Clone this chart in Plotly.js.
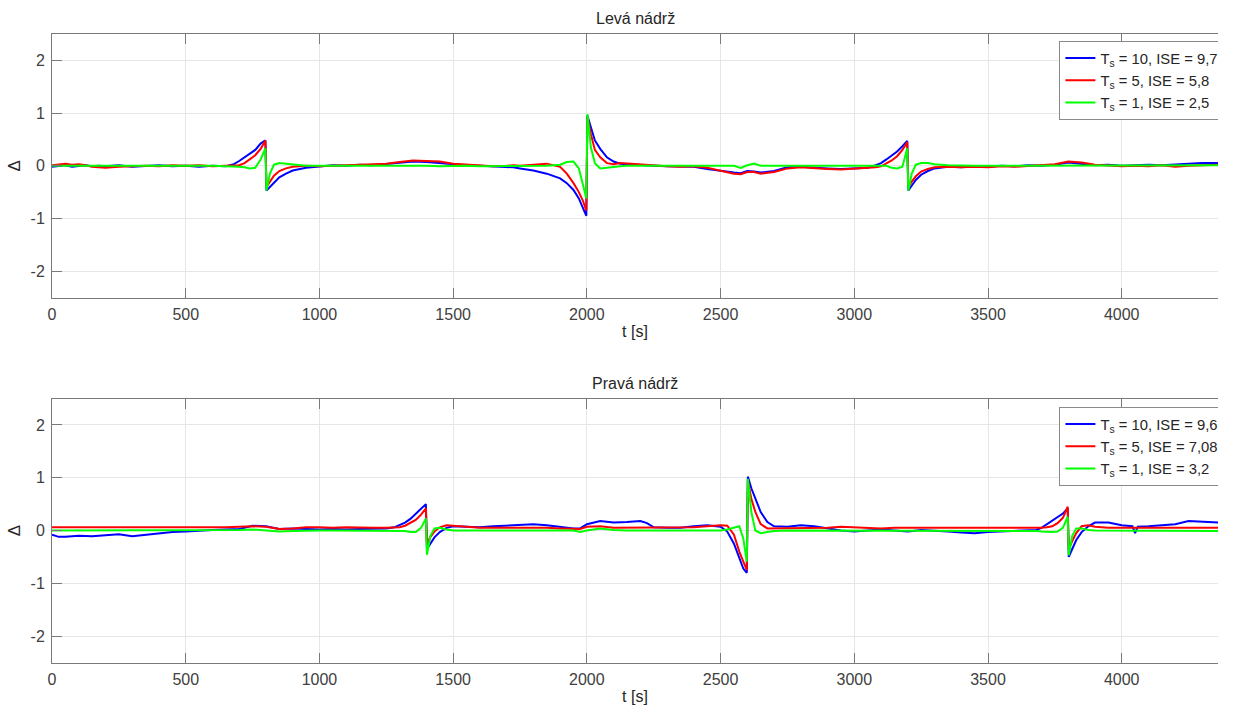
<!DOCTYPE html>
<html>
<head>
<meta charset="utf-8">
<script src="https://cdn.plot.ly/plotly-3.0.1.min.js"></script>
<style>
  html, body { margin: 0; padding: 0; background: #ffffff; }
  #clip { width: 1218px; height: 714px; overflow: hidden; }
  #plot { width: 1240px; height: 714px; }
</style>
</head>
<body>
<div id="clip"><div id="plot"></div></div>
<script>
// ---------- Levá nádrž (left tank) ----------
const tLeft = [0,25,50,75,100,125,150,175,200,250,300,350,400,450,500,550,600,650,
  680,700,720,740,760,780,798,
  802,815,830,850,875,900,950,
  1000,1050,1100,1150,1200,1250,1300,1350,1400,1450,1500,1550,1600,1650,1700,1725,1750,1800,1850,1900,1925,1950,1970,1985,1998,
  2002,2015,2030,2050,2075,2100,2125,2150,2200,2250,2300,2350,2400,2450,2500,2550,2575,2600,2625,2650,2700,2750,2800,2850,2900,2950,3000,3050,3080,3100,3120,3140,3160,3180,3198,
  3202,3215,3230,3250,3275,3300,3350,3400,3450,3500,3550,3600,3650,3700,3750,3800,3850,3900,3950,4000,4050,4100,4150,4200,4250,4300,4360];

const leftTs10 = [-0.02,-0.01,0.01,-0.02,0.0,0.01,-0.01,0.0,-0.01,0.01,-0.02,0.0,0.01,-0.01,0.0,-0.02,0.0,-0.01,
  0.03,0.09,0.16,0.23,0.3,0.42,0.48,
  -0.47,-0.4,-0.31,-0.22,-0.15,-0.09,-0.04,
  -0.02,0.01,0.0,0.02,0.01,0.03,0.05,0.08,0.07,0.05,0.02,0.01,0.0,-0.01,-0.02,-0.03,-0.05,-0.09,-0.15,-0.24,-0.33,-0.46,-0.62,-0.78,-0.95,
  0.95,0.72,0.48,0.32,0.16,0.08,0.04,0.03,0.01,0.0,-0.01,-0.01,-0.02,-0.06,-0.1,-0.13,-0.14,-0.1,-0.11,-0.13,-0.1,-0.03,-0.02,-0.04,-0.05,-0.06,-0.05,-0.04,0.01,0.05,0.12,0.19,0.27,0.37,0.47,
  -0.47,-0.37,-0.27,-0.17,-0.1,-0.05,-0.02,-0.03,-0.01,-0.02,0.0,-0.01,0.01,0.0,0.02,0.06,0.04,0.01,0.02,0.0,0.01,0.02,0.01,0.03,0.04,0.05,0.05];

const leftTs5 = [0.01,0.03,0.04,0.02,0.03,0.01,-0.02,-0.03,-0.04,-0.02,-0.01,0.0,-0.01,0.01,0.0,0.01,-0.01,0.0,
  0.0,0.01,0.05,0.12,0.2,0.32,0.48,
  -0.4,-0.3,-0.19,-0.1,-0.05,-0.02,0.0,
  -0.01,0.0,0.01,0.02,0.03,0.04,0.07,0.1,0.09,0.08,0.04,0.02,0.0,-0.01,0.0,0.01,0.0,0.02,0.04,-0.02,-0.15,-0.33,-0.5,-0.66,-0.85,
  0.92,0.6,0.3,0.16,0.05,0.03,0.05,0.04,0.02,0.0,-0.01,-0.02,-0.01,-0.04,-0.1,-0.15,-0.16,-0.12,-0.12,-0.15,-0.12,-0.05,-0.03,-0.05,-0.06,-0.07,-0.06,-0.05,-0.03,-0.01,0.04,0.1,0.18,0.3,0.45,
  -0.4,-0.3,-0.2,-0.11,-0.06,-0.03,-0.02,-0.03,-0.02,-0.03,-0.01,-0.02,0.0,0.01,0.03,0.08,0.06,0.02,0.0,-0.01,0.0,-0.01,0.01,-0.02,0.0,0.01,0.02];

const leftTs1 = [0.0,0.0,0.01,0.0,0.01,0.0,0.0,0.0,0.01,0.0,0.0,0.01,0.0,0.0,0.0,0.0,0.0,-0.01,
  -0.01,-0.02,-0.03,-0.05,-0.04,0.12,0.33,
  -0.47,-0.15,0.02,0.05,0.04,0.02,0.0,
  0.0,0.0,0.0,0.0,0.0,0.01,0.0,0.01,0.0,-0.01,0.0,0.0,-0.01,-0.01,0.0,0.0,0.0,0.0,0.0,0.02,0.07,0.08,-0.05,-0.35,-0.62,
  0.98,0.35,0.05,-0.05,-0.04,-0.02,-0.01,0.0,0.0,0.0,0.0,0.0,0.0,0.01,0.01,0.0,-0.04,0.01,0.04,0.0,0.0,0.0,0.0,0.0,0.0,0.0,0.0,0.0,0.0,0.0,0.0,-0.04,-0.05,-0.02,0.33,
  -0.47,-0.15,0.02,0.05,0.05,0.03,0.01,0.0,0.0,0.0,0.0,0.0,0.0,0.0,0.0,0.01,0.0,0.0,0.0,0.0,0.0,0.0,0.0,0.0,0.01,0.01,0.01];

// ---------- Pravá nádrž (right tank) ----------
const tRight = [0,25,50,100,150,200,250,300,350,400,450,500,550,600,650,700,750,800,850,900,950,1000,1050,1100,1150,1200,1250,
  1280,1300,1320,1340,1360,1380,1398,
  1402,1415,1430,1450,1475,1500,1550,
  1600,1650,1700,1750,1800,1850,1900,1950,1975,2000,2050,2100,2150,2200,2225,2250,2300,2350,2400,2450,2500,2525,2550,2570,2585,2598,
  2602,2615,2630,2650,2675,2700,2750,2800,2850,2900,2950,3000,3050,3100,3150,3200,3250,3300,3350,3400,3450,3500,3550,3600,3650,3680,3700,3720,3740,3760,3780,3798,
  3802,3815,3830,3850,3875,3900,3950,4000,4040,4050,4060,4100,4150,4200,4250,4300,4360];

const rightTs10 = [-0.08,-0.12,-0.12,-0.1,-0.11,-0.09,-0.07,-0.11,-0.08,-0.05,-0.03,-0.02,0.0,0.01,0.02,0.03,0.09,0.08,0.03,0.04,0.03,0.02,0.03,0.02,0.03,0.03,0.04,
  0.06,0.1,0.15,0.22,0.32,0.42,0.5,
  -0.35,-0.25,-0.13,-0.03,0.05,0.08,0.07,
  0.06,0.08,0.09,0.1,0.12,0.1,0.07,0.04,0.04,0.12,0.18,0.15,0.16,0.18,0.14,0.06,0.05,0.05,0.08,0.1,0.07,-0.02,-0.25,-0.52,-0.72,-0.8,
  1.02,0.8,0.6,0.35,0.16,0.08,0.07,0.1,0.08,0.04,0.0,-0.02,0.0,0.02,0.0,-0.02,0.01,0.0,-0.02,-0.04,-0.05,-0.03,-0.02,-0.01,0.0,0.01,0.05,0.12,0.19,0.25,0.32,0.42,
  -0.5,-0.35,-0.18,-0.03,0.08,0.15,0.15,0.1,0.08,-0.05,0.07,0.08,0.1,0.12,0.18,0.17,0.15];

const rightTs5 = [0.06,0.06,0.05,0.06,0.06,0.05,0.06,0.06,0.05,0.05,0.06,0.05,0.05,0.06,0.06,0.07,0.08,0.07,0.03,0.04,0.06,0.06,0.05,0.06,0.05,0.05,0.05,
  0.05,0.06,0.09,0.14,0.2,0.3,0.42,
  -0.25,-0.12,-0.02,0.06,0.1,0.09,0.06,
  0.05,0.05,0.05,0.06,0.05,0.05,0.04,0.04,0.03,0.07,0.08,0.05,0.05,0.05,0.05,0.05,0.05,0.05,0.06,0.08,0.1,0.09,-0.08,-0.4,-0.6,-0.75,
  0.95,0.6,0.35,0.12,0.04,0.04,0.05,0.05,0.05,0.05,0.07,0.06,0.05,0.04,0.05,0.05,0.05,0.04,0.05,0.05,0.05,0.05,0.05,0.05,0.05,0.05,0.05,0.06,0.08,0.14,0.24,0.45,
  -0.35,-0.2,-0.05,0.08,0.1,0.07,0.05,0.05,0.05,0.05,0.05,0.05,0.05,0.05,0.04,0.05,0.05];

const rightTs1 = [0,0,0,0,0,0,0,0,0,0,0.01,0,0,0,0,0.01,0.02,0,-0.02,-0.01,0,0,0,0,0,0,0,
  0,0,-0.01,-0.03,-0.03,0.05,0.23,
  -0.46,-0.1,0.04,0.05,0.02,0,0,
  0,0,0,0,0,0,0,0,-0.03,0.0,0.04,0.01,0,0,0,0,0,0,0,0,0,0.02,0.06,0.08,-0.15,-0.59,
  0.98,0.35,0.0,-0.05,-0.03,-0.01,0,0,0,0,0,0,0,0,0,0,0,0,0,0,0,0,0,0,0,-0.01,-0.02,-0.03,-0.03,-0.02,0.05,0.26,
  -0.47,-0.1,0.04,0.04,0.01,0,0,0,0,0,0,0,0,0,-0.01,-0.01,-0.01];

const legendLeft = ['T<sub>s</sub> = 10, ISE = 9,7', 'T<sub>s</sub> = 5, ISE = 5,8', 'T<sub>s</sub> = 1, ISE = 2,5'];
const legendRight = ['T<sub>s</sub> = 10, ISE = 9,6', 'T<sub>s</sub> = 5, ISE = 7,08', 'T<sub>s</sub> = 1, ISE = 3,2'];
const panelTitles = ['Levá nádrž', 'Pravá nádrž'];
const yTickVals = [-2, -1, 0, 1, 2];
const yTickText = ['-2', '-1', '0', '1', '2'];
const colors = ['#0000ff', '#ff0000', '#00ff00'];

const FONT = 'Liberation Sans, Arial, Helvetica, sans-serif';
const H = 714;

const leftSeries = [leftTs10, leftTs5, leftTs1];
const rightSeries = [rightTs10, rightTs5, rightTs1];
const traces = [];
leftSeries.forEach((ys, i) => traces.push({
  x: tLeft, y: ys, type: 'scatter', mode: 'lines', name: legendLeft[i],
  line: {color: colors[i], width: 2}, xaxis: 'x', yaxis: 'y', legend: 'legend'
}));
rightSeries.forEach((ys, i) => traces.push({
  x: tRight, y: ys, type: 'scatter', mode: 'lines', name: legendRight[i],
  line: {color: colors[i], width: 2}, xaxis: 'x2', yaxis: 'y2', legend: 'legend2'
}));

const axisLine = '#7a7a7a';
function xAx(anchor) {
  return {
    anchor: anchor, domain: [0, 1], range: [0, 4360], tick0: 0, dtick: 500,
    ticks: 'inside', ticklen: 10, tickcolor: axisLine, showline: true, linecolor: axisLine, linewidth: 1,
    mirror: 'ticks', showgrid: true, gridcolor: '#e6e6e6', zeroline: false, automargin: false,
    tickfont: {family: FONT, size: 16, color: '#404040'}, ticklabelstandoff: 2,
    title: {text: 't [s]', font: {family: FONT, size: 16, color: '#262626'}, standoff: 4}
  };
}
function yAx(anchor, dom) {
  return {
    anchor: anchor, domain: dom, range: [-2.5, 2.5], tickmode: 'array', tickvals: yTickVals, ticktext: yTickText,
    ticks: 'inside', ticklen: 10, tickcolor: axisLine, showline: true, linecolor: axisLine, linewidth: 1,
    mirror: false, showgrid: true, gridcolor: '#e6e6e6', zeroline: false, automargin: false,
    tickfont: {family: FONT, size: 16, color: '#404040'}, ticklabelstandoff: 3,
    title: {text: 'Δ', font: {family: FONT, size: 17, color: '#262626'}, standoff: 5}
  };
}

const legendBase = {
  xref: 'paper', yref: 'paper', x: 1.0055, xanchor: 'right', yanchor: 'top',
  bgcolor: '#ffffff', bordercolor: '#8a8a8a', borderwidth: 1,
  font: {family: FONT, size: 14.8, color: '#262626'}, itemwidth: 30, tracegroupgap: 0
};

const layout = {
  width: 1240, height: H,
  margin: {l: 52, r: 22, t: 0, b: 0},
  paper_bgcolor: '#ffffff', plot_bgcolor: '#ffffff',
  font: {family: FONT, color: '#262626'},
  xaxis: xAx('y'),
  yaxis: yAx('x', [1 - 297.5 / H, 1 - 34 / H]),
  xaxis2: xAx('y2'),
  yaxis2: yAx('x2', [1 - 662.5 / H, 1 - 398.5 / H]),
  legend: Object.assign({}, legendBase, {y: 1 - 41 / H}),
  legend2: Object.assign({}, legendBase, {y: 1 - 407 / H}),
  annotations: [
    {text: panelTitles[0], xref: 'paper', yref: 'paper', x: 0.5, y: 1 - 18 / H, xanchor: 'center', yanchor: 'middle', showarrow: false, font: {family: FONT, size: 16, color: '#262626'}},
    {text: panelTitles[1], xref: 'paper', yref: 'paper', x: 0.5, y: 1 - 383 / H, xanchor: 'center', yanchor: 'middle', showarrow: false, font: {family: FONT, size: 16, color: '#262626'}}
  ],
  showlegend: true
};

Plotly.newPlot('plot', traces, layout, {displayModeBar: false, staticPlot: true});
</script>
</body>
</html>
